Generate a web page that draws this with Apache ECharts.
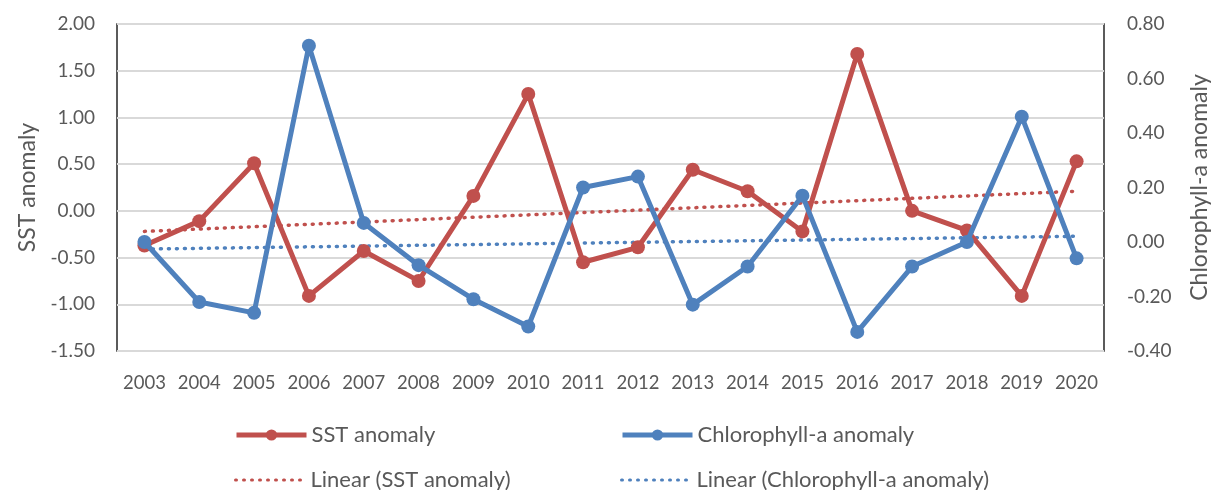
<!DOCTYPE html>
<html>
<head>
<meta charset="utf-8">
<script src="https://cdn.jsdelivr.net/npm/echarts@6/dist/echarts.min.js"></script>
<style>
html,body{margin:0;padding:0;background:#fff;}
#chart{width:1217px;height:490px;}
</style>
</head>
<body>
<div id="chart"></div>
<script>
var years = ['2003','2004','2005','2006','2007','2008','2009','2010','2011','2012','2013','2014','2015','2016','2017','2018','2019','2020'];
var sstAnomaly = [-0.37,-0.11,0.51,-0.91,-0.43,-0.75,0.16,1.25,-0.55,-0.39,0.44,0.21,-0.22,1.68,0.00,-0.21,-0.91,0.53];
var chlAnomaly = [0.00,-0.22,-0.26,0.72,0.07,-0.085,-0.21,-0.31,0.20,0.24,-0.23,-0.09,0.17,-0.33,-0.09,0.00,0.46,-0.06];
var sstTrendEnds = [-0.22, 0.21];
var chlTrendEnds = [-0.026, 0.021];
var leftTicks = {min:-1.5, max:2.0, interval:0.5};
var rightTicks = {min:-0.4, max:0.8, interval:0.2};

function trendSeries(ends){
  var arr = years.map(function(){return null;});
  arr[0] = ends[0];
  arr[arr.length-1] = ends[1];
  return arr;
}

var RED = '#C0504D', BLUE = '#4F81BD';
var FONT = 'Lato';
var TXT = '#595959';
function leg(name, left, top, isTrend){
  var l = {orient:'horizontal', left:left, top:top, padding:0, itemWidth:70, itemHeight:14, itemGap:10,
    data:[name], textStyle:{fontFamily:FONT, fontSize:22, color:TXT}};
  if (isTrend) { l.itemStyle = {opacity:0}; l.lineStyle = {width:3}; }
  else { l.lineStyle = {width:5}; }
  return l;
}
var chart = echarts.init(document.getElementById('chart'));
chart.setOption({
  animation:false,
  textStyle:{fontFamily:FONT},
  grid:{left:117, right:113, top:24, bottom:139, outerBoundsMode:'none', containLabel:false,
        show:true, borderColor:'#262626', borderWidth:1.5, backgroundColor:'transparent'},
  legend:[
    leg('SST anomaly', 234, 424, false),
    leg('Linear (SST anomaly)', 234, 469, true),
    leg('Chlorophyll-a anomaly', 620, 424, false),
    leg('Linear (Chlorophyll-a anomaly)', 620, 469, true)
  ],
  xAxis:{type:'category', data:years, boundaryGap:true,
    axisLine:{show:false}, axisTick:{show:false},
    axisLabel:{color:TXT, fontSize:18.5, fontFamily:FONT, margin:23, interval:0},
    splitLine:{show:false}},
  yAxis:[
    {type:'value', position:'left', min:leftTicks.min, max:leftTicks.max, interval:leftTicks.interval,
     name:'SST anomaly', nameLocation:'middle', nameRotate:90, nameGap:76,
     nameTextStyle:{color:TXT, fontSize:23, fontFamily:FONT},
     axisLine:{show:false}, axisTick:{show:false},
     axisLabel:{color:TXT, fontSize:19, fontFamily:FONT, margin:22, formatter:function(v){return v.toFixed(2);}},
     splitLine:{show:true, lineStyle:{color:'#D9D9D9', width:2}}},
    {type:'value', position:'right', min:rightTicks.min, max:rightTicks.max, interval:rightTicks.interval,
     name:'Chlorophyll-a anomaly', nameLocation:'middle', nameRotate:90, nameGap:84,
     nameTextStyle:{color:TXT, fontSize:23, fontFamily:FONT},
     axisLine:{show:false}, axisTick:{show:false},
     axisLabel:{color:TXT, fontSize:19, fontFamily:FONT, margin:23, formatter:function(v){return v.toFixed(2);}},
     splitLine:{show:false}}
  ],
  series:[
    {name:'SST anomaly', type:'line', yAxisIndex:0, data:sstAnomaly,
     symbol:'circle', symbolSize:14, itemStyle:{color:RED}, lineStyle:{color:RED, width:5}, z:3},
    {name:'Chlorophyll-a anomaly', type:'line', yAxisIndex:1, data:chlAnomaly,
     symbol:'circle', symbolSize:14, itemStyle:{color:BLUE}, lineStyle:{color:BLUE, width:5}, z:4},
    {name:'Linear (SST anomaly)', type:'line', yAxisIndex:0, data:trendSeries(sstTrendEnds), connectNulls:true,
     symbol:'none', itemStyle:{color:RED}, lineStyle:{color:RED, width:3.5, type:[1,7], cap:'round'}, z:2},
    {name:'Linear (Chlorophyll-a anomaly)', type:'line', yAxisIndex:1, data:trendSeries(chlTrendEnds), connectNulls:true,
     symbol:'none', itemStyle:{color:BLUE}, lineStyle:{color:BLUE, width:3.5, type:[1,7], cap:'round'}, z:2}
  ]
});
</script>
</body>
</html>
